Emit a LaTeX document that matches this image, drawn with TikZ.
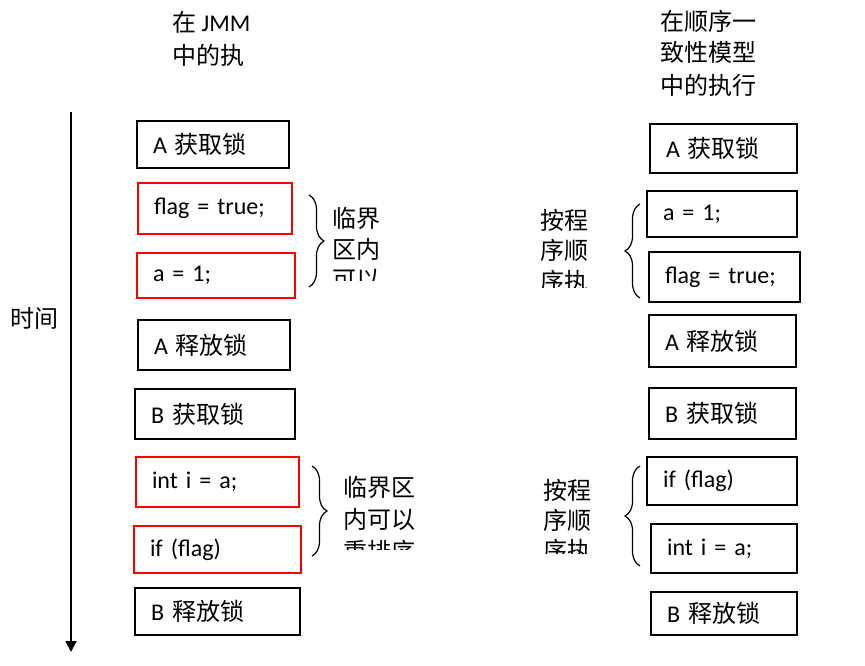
\documentclass[tikz,border=0pt]{standalone}
\usepackage{fontspec}
\setmainfont{Carlito}
\newfontfamily\cjk{Noto Sans CJK SC}
\usetikzlibrary{arrows.meta,decorations.pathreplacing}
\begin{document}
\begin{tikzpicture}[x=1pt,y=-1pt,
  every node/.style={font=\fontsize{24}{30}\selectfont},
  blk/.style={draw=black, line width=1.8pt, inner xsep=16pt, inner ysep=0pt, align=left},
  redblk/.style={blk, draw=red, line width=1.6pt},
  lbl/.style={anchor=west, inner sep=0pt},
  brc/.style={decorate, decoration={brace, amplitude=15pt}, line width=1.2pt},
  tline/.style={line width=1.8pt, -{Triangle[length=11pt,width=11pt]}},
]
\useasboundingbox (0,0) rectangle (865,666);

% titles
\node[lbl] (t1a) at (172,22.5) {{\cjk 在} JMM};
\node[lbl] (t1b) at (172,55) {\cjk 中的执};
\node[lbl] (t2a) at (660,21) {\cjk 在顺序一};
\node[lbl] (t2b) at (660,52) {\cjk 致性模型};
\node[lbl] (t2c) at (660,85) {\cjk 中的执行};

% time axis
\coordinate (t0) at (71,112);
\coordinate (t1) at (71,652);
\draw[tline] (t0) -- (t1);
\node (time) at (34,318) {\cjk 时间};

% left column
\node[blk,    text width=120pt, minimum height=47pt] (L1) at (213,144.5) {A {\cjk 获取锁}};
\node[redblk, text width=122pt, minimum height=51pt] (L2) at (215,208.5) {flag = true;};
\node[redblk, text width=126pt, minimum height=45pt] (L3) at (216,275.5) {a = 1;};
\node[blk,    text width=120pt, minimum height=50pt] (L4) at (214,345) {A {\cjk 释放锁}};
\node[blk,    text width=128pt, minimum height=50pt] (L5) at (215,414) {B {\cjk 获取锁}};
\node[redblk, text width=131pt, minimum height=50pt] (L6) at (217.5,482) {int i = a;};
\node[redblk, text width=135pt, minimum height=47pt] (L7) at (217.5,549.5) {if (flag)};
\node[blk,    text width=133pt, minimum height=47pt] (L8) at (217.5,611.5) {B {\cjk 释放锁}};

% right column
\node[blk, text width=115pt, minimum height=49pt] (R1) at (723.5,148.5) {A {\cjk 获取锁}};
\node[blk, text width=118pt, minimum height=46pt] (R2) at (722,214) {a = 1;};
\node[blk, text width=119pt, minimum height=50pt] (R3) at (724.5,277) {flag = true;};
\node[blk, text width=115pt, minimum height=52pt] (R4) at (722.5,341) {A {\cjk 释放锁}};
\node[blk, text width=115pt, minimum height=51pt] (R5) at (722.5,413.5) {B {\cjk 获取锁}};
\node[blk, text width=118pt, minimum height=48pt] (R6) at (722,481) {if (flag)};
\node[blk, text width=114pt, minimum height=49pt] (R7) at (724,548.5) {int i = a;};
\node[blk, text width=114pt, minimum height=43pt] (R8) at (724,613.5) {B {\cjk 释放锁}};

% braces
\coordinate (b1s) at (309,195);
\coordinate (b1e) at (309,287);
\draw[brc] (b1s) -- (b1e);
\coordinate (b2s) at (312,466);
\coordinate (b2e) at (312,556);
\draw[brc] (b2s) -- (b2e);
\coordinate (b3s) at (640,298);
\coordinate (b3e) at (640,204);
\draw[brc] (b3s) -- (b3e);
\coordinate (b4s) at (640,566);
\coordinate (b4e) at (640,466);
\draw[brc] (b4s) -- (b4e);

% clipped labels
\begin{scope}
\clip (320,190) rectangle (430,280);
\node[lbl] (c1a) at (332,218) {\cjk 临界};
\node[lbl] (c1b) at (332,249) {\cjk 区内};
\node[lbl] (c1c) at (332,280) {\cjk 可以};
\end{scope}
\begin{scope}
\clip (330,460) rectangle (440,549);
\node[lbl] (c2a) at (343,487) {\cjk 临界区};
\node[lbl] (c2b) at (343,519) {\cjk 内可以};
\node[lbl] (c2c) at (343,551) {\cjk 重排序};
\end{scope}
\begin{scope}
\clip (530,195) rectangle (615,287);
\node[lbl] (c3a) at (540,220) {\cjk 按程};
\node[lbl] (c3b) at (540,250) {\cjk 序顺};
\node[lbl] (c3c) at (540,281) {\cjk 序执};
\end{scope}
\begin{scope}
\clip (530,465) rectangle (615,553);
\node[lbl] (c4a) at (543,490) {\cjk 按程};
\node[lbl] (c4b) at (543,520) {\cjk 序顺};
\node[lbl] (c4c) at (543,550) {\cjk 序执};
\end{scope}
\end{tikzpicture}
\end{document}
